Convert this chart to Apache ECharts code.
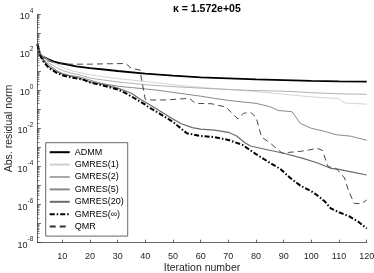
<!DOCTYPE html>
<html>
<head>
<meta charset="utf-8">
<script src="https://cdn.jsdelivr.net/npm/echarts@6/dist/echarts.min.js"></script>
<style>html,body{margin:0;padding:0;background:#fff;}#c{width:374px;height:273px;}</style>
</head>
<body>
<div id="c"></div>
<script>
// ---- data ----
const titleText = 'κ = 1.572e+05';
const xTicks = [10, 20, 30, 40, 50, 60, 70, 80, 90, 100, 110, 120];
const yMajorTicks = [1e-8, 1e-7, 1e-6, 1e-5, 1e-4, 1e-3, 1e-2, 1e-1, 1e0, 1e1, 1e2, 1e3, 1e4];
const yLabelTicks = [1e-8, 1e-6, 1e-4, 1e-2, 1e0, 1e2, 1e4];
const seriesNames = ['ADMM', 'GMRES(1)', 'GMRES(2)', 'GMRES(5)', 'GMRES(20)', 'GMRES(∞)', 'QMR'];

const itADMM = [1, 2, 3, 5, 7, 10, 15, 20, 25, 30, 40, 50, 60, 70, 80, 90, 100, 110, 120];
const resADMM = [263, 80, 60, 43, 33, 26, 18.6, 14.8, 12.6, 10.5, 7.6, 6.0, 4.9, 4.3, 3.8, 3.5, 3.2, 3.0, 2.9];

const itG1 = [1, 2, 3, 5, 8, 10, 13, 16, 20, 25, 30, 40, 50, 60, 70, 80, 90, 100, 110, 112, 120];
const resG1 = [263, 100, 63, 40, 22.4, 16.6, 11.2, 8.9, 6.6, 5.2, 4.2, 2.95, 2.0, 1.45, 1.12, 0.87, 0.63, 0.46, 0.37, 0.22, 0.19];

const itG2 = [1, 2, 3, 5, 8, 10, 13, 16, 20, 22, 25, 30, 40, 50, 60, 70, 80, 90, 95, 100, 110, 120];
const resG2 = [263, 89, 52, 28, 15.8, 11.2, 8.3, 6.6, 4.5, 4.0, 3.5, 2.8, 2.0, 1.58, 1.32, 1.12, 0.98, 0.91, 0.85, 0.76, 0.66, 0.63];

const itG5 = [1, 2, 3, 5, 8, 10, 13, 16, 20, 23, 25, 30, 35, 40, 45, 50, 55, 60, 65, 70, 75, 80, 85, 88, 93, 96, 100, 104, 109, 114, 120];
const resG5 = [263, 79, 45, 22.4, 11.2, 7.9, 6.0, 5.2, 3.5, 2.6, 2.24, 1.66, 1.41, 1.2, 1.0, 0.79, 0.63, 0.5, 0.38, 0.3, 0.25, 0.21, 0.141, 0.089, 0.076, 0.0186, 0.0102, 7.6e-3, 4.7e-3, 4.0e-3, 2.4e-3];

const itG20 = [1, 2, 3, 5, 8, 10, 13, 16, 20, 25, 30, 35, 38, 41, 45, 50, 53, 57, 60, 65, 70, 73, 76, 78, 82, 90, 97, 102, 107, 110, 114, 120];
const resG20 = [263, 76, 40, 17.8, 9.5, 7.1, 5.6, 4.5, 2.8, 2.0, 1.32, 0.71, 0.355, 0.2, 0.089, 0.0316, 0.0178, 0.0112, 9.3e-3, 8.3e-3, 6.3e-3, 4.0e-3, 1.78e-3, 1.2e-3, 8.9e-4, 5.0e-4, 2.7e-4, 1.58e-4, 8.1e-5, 7.1e-5, 5.4e-5, 3.6e-5];

const itGinf = [1, 2, 3, 5, 8, 10, 12, 15, 18, 20, 25, 30, 33, 36, 40, 41, 45, 50, 55, 60, 65, 70, 75, 78, 80, 85, 89, 92, 96, 100, 102, 105, 107, 110, 114, 117, 120];
const resGinf = [263, 70.8, 35.5, 15.8, 8.3, 6.3, 5.2, 4.3, 3.5, 2.6, 1.78, 1.12, 0.71, 0.40, 0.178, 0.138, 0.063, 0.0224, 5.6e-3, 4.0e-3, 3.55e-3, 2.5e-3, 1.41e-3, 7.1e-4, 4.5e-4, 1.58e-4, 7.1e-5, 2.8e-5, 1.0e-5, 5.0e-6, 3.2e-6, 1.41e-6, 6.3e-7, 4.0e-7, 2.3e-7, 1.26e-7, 5.6e-8];

const itQMR = [1, 2, 3, 5, 8, 11, 20, 25, 33, 35, 38, 40, 41, 48, 52, 56, 58, 64, 66, 69, 73.5, 75.5, 78, 80, 82, 85, 89.5, 92, 96, 99, 102, 104, 106, 109, 110.5, 112, 113.5, 115.5, 118, 120];
const resQMR = [263, 79, 52, 35.5, 26, 24, 24, 25, 26, 14.1, 12.0, 0.33, 0.316, 0.316, 0.355, 0.38, 0.21, 0.2, 0.166, 0.138, 0.0316, 0.063, 0.071, 0.04, 3.55e-3, 1.78e-3, 5.0e-4, 5.6e-4, 6.3e-4, 7.4e-4, 9.1e-4, 7.1e-4, 1.0e-4, 7.9e-5, 4.5e-5, 2.5e-5, 5.0e-6, 1.17e-6, 1.12e-6, 1.74e-6];

// ---- build ----
const FONT = 'Liberation Sans';
const AX = '#262626';
function pairs(xs, ys) { return xs.map((x, i) => [x, ys[i]]); }
const yMinorTicks = [];
for (let e = -8; e < 4; e++) for (let k = 2; k <= 9; k++) yMinorTicks.push(k * Math.pow(10, e));

const styles = [
  { color: '#000000', width: 1.8, type: 'solid' },
  { color: '#cfcfcf', width: 0.9, type: 'solid' },
  { color: '#a8a8a8', width: 0.9, type: 'solid' },
  { color: '#8a8a8a', width: 1.0, type: 'solid' },
  { color: '#6a6a6a', width: 1.2, type: 'solid' },
  { color: '#000000', width: 2.0, type: [5, 2, 1.5, 2] },
  { color: '#333333', width: 0.9, type: [6, 4] }
];
const dataSets = [
  pairs(itADMM, resADMM), pairs(itG1, resG1), pairs(itG2, resG2), pairs(itG5, resG5),
  pairs(itG20, resG20), pairs(itGinf, resGinf), pairs(itQMR, resQMR)
];
const series = seriesNames.map((n, i) => ({
  name: n, type: 'line', data: dataSets[i], showSymbol: false, symbol: 'none',
  xAxisIndex: 0, yAxisIndex: 0,
  lineStyle: { color: styles[i].color, width: styles[i].width, type: styles[i].type },
  itemStyle: { color: styles[i].color },
  emphasis: { disabled: true }, silent: true
}));

const chart = echarts.init(document.getElementById('c'), null, { renderer: 'canvas' });
chart.setOption({
  animation: false,
  backgroundColor: '#ffffff',
  title: {
    text: titleText, left: 168, top: -1,
    textStyle: { fontFamily: FONT, fontSize: 10.5, fontWeight: 'bold', color: '#000' }
  },
  grid: { left: 37.4, right: 7.3, top: 14.3, bottom: 30.3, containLabel: false, outerBoundsMode: 'none' },
  legend: {
    data: seriesNames, orient: 'vertical', left: 45.7, top: 142.7,
    itemWidth: 20, itemHeight: 8, itemGap: 3.4,
    padding: [5, 4, 5, 3],
    backgroundColor: '#fff', borderColor: '#262626', borderWidth: 0.7,
    itemStyle: { opacity: 0 },
    textStyle: { fontFamily: FONT, fontSize: 9, color: '#000' },
    selectedMode: false
  },
  xAxis: {
    type: 'value', min: 1, max: 120,
    name: 'Iteration number', nameLocation: 'middle', nameGap: 20, nameMoveOverlap: false,
    nameTextStyle: { fontFamily: FONT, fontSize: 10.5, color: AX },
    axisLine: { show: true, lineStyle: { color: AX, width: 0.7 } },
    axisTick: { show: true, inside: true, length: 3, customValues: xTicks, lineStyle: { color: AX, width: 0.7 } },
    axisLabel: { customValues: xTicks, fontFamily: FONT, fontSize: 9, color: AX, margin: 9.5 },
    splitLine: { show: false }
  },
  yAxis: [{
    type: 'log', logBase: 10, min: 1e-8, max: 1e4, position: 'left',
    name: 'Abs. residual norm', nameLocation: 'middle', nameGap: 22.5, nameRotate: 90, nameMoveOverlap: false,
    nameTextStyle: { fontFamily: FONT, fontSize: 10.5, color: AX },
    axisLine: { show: true, lineStyle: { color: AX, width: 0.7 } },
    axisTick: { show: true, inside: true, length: 3.5, customValues: yMajorTicks, lineStyle: { color: AX, width: 0.7 } },
    axisLabel: {
      customValues: yLabelTicks, margin: 4,
      formatter: function (v) { return '{b|10}{s|' + Math.round(Math.log10(v)) + '}'; },
      rich: {
        b: { fontFamily: FONT, fontSize: 9, color: AX, verticalAlign: 'bottom', lineHeight: 14 },
        s: { fontFamily: FONT, fontSize: 6.5, color: AX, verticalAlign: 'top', lineHeight: 14 }
      }
    },
    splitLine: { show: false }, minorTick: { show: false }
  }, {
    type: 'log', logBase: 10, min: 1e-8, max: 1e4, position: 'left', offset: 0,
    axisLine: { show: false },
    axisTick: { show: true, inside: true, length: 2, customValues: yMinorTicks, lineStyle: { color: AX, width: 0.6 } },
    axisLabel: { show: false }, splitLine: { show: false }
  }],
  series: series
});
</script>
</body>
</html>
